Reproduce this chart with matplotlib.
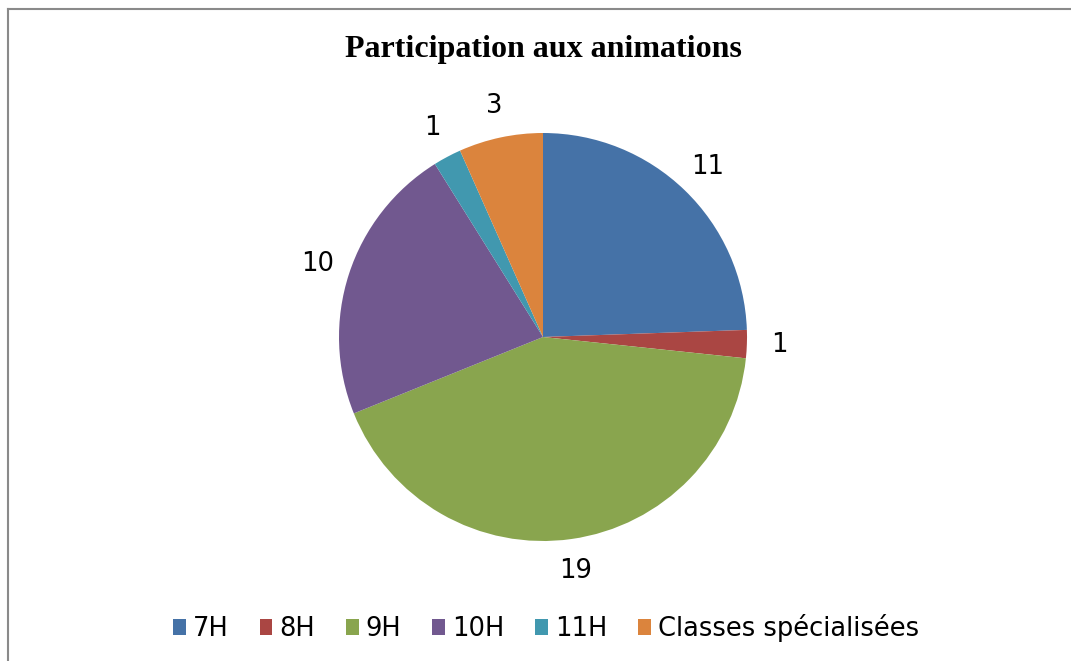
import matplotlib.pyplot as plt
from matplotlib.lines import Line2D
import numpy as np

categories = ['7H', '8H', '9H', '10H', '11H', 'Classes spécialisées']
participants = [11, 1, 19, 10, 1, 3]
colors = ['#4572A7', '#AA4643', '#89A54E', '#71588F', '#4198AF', '#DB843D']

fig = plt.figure(figsize=(10.71, 6.61), dpi=100)
ax = fig.add_axes([339 / 1071, 120 / 661, 408 / 1071, 408 / 661])

wedges, _ = ax.pie(participants, colors=colors, startangle=90, counterclock=False,
                   wedgeprops=dict(linewidth=0))
ax.set_xlim(-1, 1)
ax.set_ylim(-1, 1)
ax.set_aspect('equal')

# valeurs autour du camembert
for w, v in zip(wedges, participants):
    ang = np.deg2rad((w.theta1 + w.theta2) / 2)
    ax.text(1.16 * np.cos(ang), 1.16 * np.sin(ang), str(v), ha='center', va='center',
            fontsize=18.5, family='DejaVu Sans', clip_on=False)

fig.text(543 / 1071, 1 - 50 / 661, 'Participation aux animations', ha='center', va='center',
         fontsize=23, fontweight='bold', family='Liberation Serif')

fig.legend(wedges, categories, loc='center', bbox_to_anchor=(546 / 1071, 1 - 628 / 661),
           ncol=6, frameon=False, fontsize=18.5, handlelength=0.5, handleheight=0.55,
           handletextpad=0.27, columnspacing=1.2)

# cadre du graphique
fig.add_artist(Line2D([7.5 / 1071, 7.5 / 1071], [0, 1 - 9 / 661], color='#8a8a8a', lw=1.5))
fig.add_artist(Line2D([7.5 / 1071, 1], [1 - 9 / 661, 1 - 9 / 661], color='#8a8a8a', lw=1.5))

fig.savefig('out.png', dpi=100)
